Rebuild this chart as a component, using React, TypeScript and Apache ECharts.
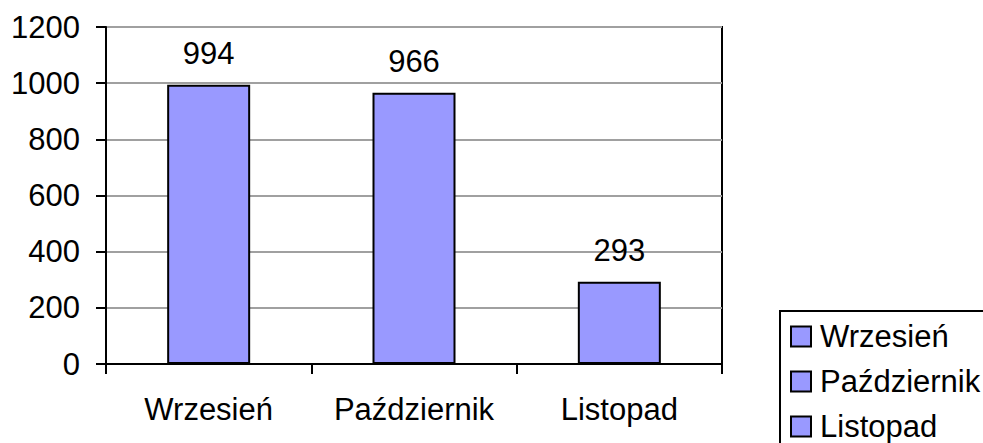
import React, { useEffect, useRef } from "react";
import * as echarts from "echarts";

const categories = ["Wrzesień", "Październik", "Listopad"];
const values = [994, 966, 293];
const yTicks = { min: 0, max: 1200, interval: 200 };

const FONT = '"Liberation Sans", Arial, sans-serif';
const BAR = "#9999FF";

export default function App() {
  const ref = useRef<HTMLDivElement>(null);
  useEffect(() => {
    if (!ref.current) return;
    const chart = echarts.init(ref.current, undefined, { renderer: "svg" });
    const series = categories.map((name, i) => ({
      type: "bar",
      name,
      stack: "all",
      barWidth: 83,
      data: values.map((v, j) => (j === i ? v : "-")),
      itemStyle: { color: BAR, borderColor: "#000", borderWidth: 2 },
      label: {
        show: true,
        position: "top",
        distance: 16,
        color: "#000",
        fontSize: 31,
        lineHeight: 31,
        fontFamily: FONT,
      },
    }));
    chart.setOption({
      animation: false,
      backgroundColor: "#fff",
      textStyle: { fontFamily: FONT },
      grid: {
        left: 106,
        top: 27,
        right: 261,
        bottom: 79,
        show: true,
        borderColor: "#000",
        borderWidth: 2,
        containLabel: false,
      },
      xAxis: {
        type: "category",
        data: categories,
        axisLine: { lineStyle: { color: "#000", width: 2 } },
        axisTick: { show: true, alignWithLabel: false, length: 10, lineStyle: { color: "#000", width: 2 } },
        axisLabel: {
          color: "#000",
          fontSize: 31,
          lineHeight: 31,
          margin: 30,
          fontFamily: FONT,
          interval: 0,
          hideOverlap: false,
        },
        splitLine: { show: false },
      },
      yAxis: {
        type: "value",
        min: yTicks.min,
        max: yTicks.max,
        interval: yTicks.interval,
        axisLine: { show: true, lineStyle: { color: "#000", width: 2 } },
        axisTick: { show: true, length: 10, lineStyle: { color: "#000", width: 2 } },
        axisLabel: {
          color: "#000",
          fontSize: 31,
          margin: 26,
          fontFamily: FONT,
          formatter: (v: number) => String(v),
        },
        splitLine: { show: true, lineStyle: { color: "#a0a0a0", width: 2 } },
      },
      legend: {
        data: categories,
        orient: "vertical",
        left: 790,
        top: 321,
        padding: 0,
        itemWidth: 20,
        itemHeight: 20,
        itemGap: 14,
        icon: "rect",
        selectedMode: false,
        textStyle: { color: "#000", fontSize: 31, lineHeight: 31, fontFamily: FONT, padding: [0, 0, 0, 4] },
      },
      graphic: [
        {
          type: "rect",
          shape: { x: 780, y: 311, width: 400, height: 300 },
          style: { fill: "none", stroke: "#000", lineWidth: 2 },
          z: 10,
        },
      ],
      series,
    });
    return () => chart.dispose();
  }, []);
  return (
    <div
      ref={ref}
      style={{ position: "absolute", left: 0, top: 0, width: 983, height: 443 }}
    />
  );
}
